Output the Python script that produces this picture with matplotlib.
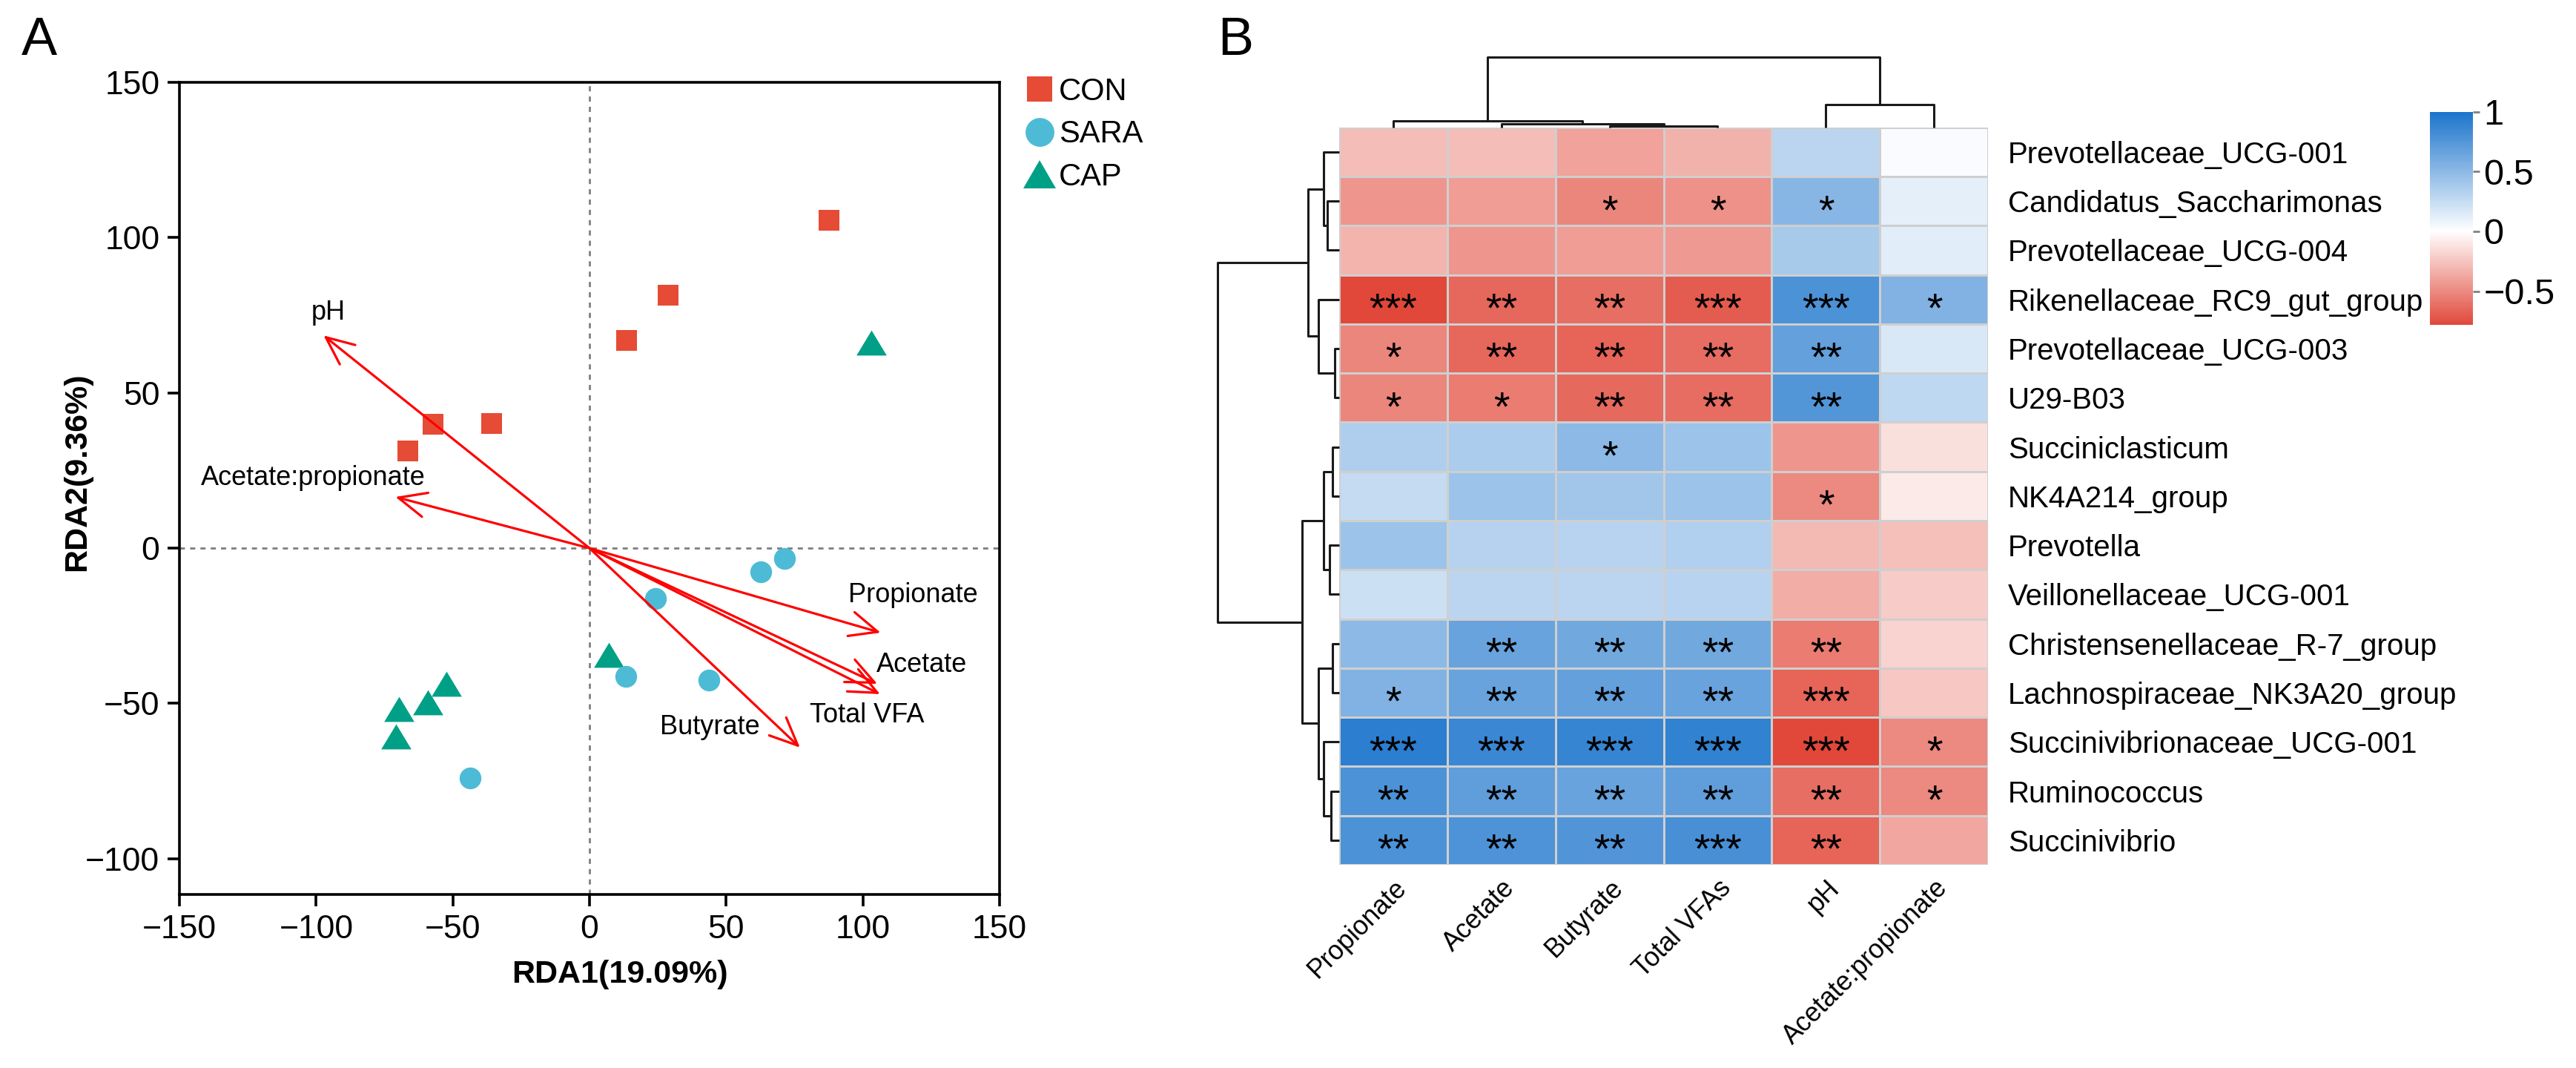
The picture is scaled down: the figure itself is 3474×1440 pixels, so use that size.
import numpy as np
import matplotlib
matplotlib.use("Agg")
import matplotlib.pyplot as plt
import matplotlib.cm as cm
from matplotlib.colors import LinearSegmentedColormap, Normalize
from matplotlib.lines import Line2D
from matplotlib.markers import MarkerStyle
from matplotlib.transforms import Affine2D, ScaledTranslation

plt.rcParams['font.family'] = ['Liberation Sans', 'DejaVu Sans']

# ---- panel A: RDA scores ----
con_x = [87.5, 28.8, 13.5, -57.3, -35.7, -66.5]
con_y = [105.5, 81.4, 67.0, 39.9, 40.2, 31.2]
sara_x = [71.3, 62.6, 24.2, 13.3, 43.8, -43.8]
sara_y = [-3.3, -7.5, -16.2, -41.3, -42.6, -74.0]
cap_x = [103.2, 7.1, -52.3, -59.2, -69.8, -70.8]
cap_y = [66.2, -34.4, -43.7, -49.6, -51.9, -60.6]

env_names = ["pH", "Acetate:propionate", "Propionate", "Acetate", "Total VFA", "Butyrate"]
env_x = [-97.3, -71.0, 106.5, 105.3, 106.3, 77.0]
env_y = [68.5, 16.5, -27.2, -43.7, -47.0, -64.2]

# ---- panel B: correlation heatmap ----
genera = ["Prevotellaceae_UCG-001", "Candidatus_Saccharimonas", "Prevotellaceae_UCG-004",
          "Rikenellaceae_RC9_gut_group", "Prevotellaceae_UCG-003", "U29-B03",
          "Succiniclasticum", "NK4A214_group", "Prevotella", "Veillonellaceae_UCG-001",
          "Christensenellaceae_R-7_group", "Lachnospiraceae_NK3A20_group",
          "Succinivibrionaceae_UCG-001", "Ruminococcus", "Succinivibrio"]
vfa_cols = ["Propionate", "Acetate", "Butyrate", "Total VFAs", "pH", "Acetate:propionate"]
corr = np.array([
    [-0.28, -0.28, -0.40, -0.33, 0.30, 0.03],
    [-0.45, -0.42, -0.52, -0.47, 0.52, 0.12],
    [-0.32, -0.45, -0.42, -0.43, 0.38, 0.13],
    [-0.78, -0.65, -0.62, -0.70, 0.78, 0.55],
    [-0.52, -0.65, -0.66, -0.63, 0.68, 0.17],
    [-0.52, -0.56, -0.64, -0.63, 0.75, 0.28],
    [0.35, 0.37, 0.50, 0.43, -0.45, -0.13],
    [0.26, 0.43, 0.41, 0.43, -0.50, -0.09],
    [0.43, 0.32, 0.31, 0.34, -0.30, -0.27],
    [0.22, 0.30, 0.30, 0.31, -0.35, -0.22],
    [0.50, 0.66, 0.62, 0.62, -0.56, -0.19],
    [0.55, 0.66, 0.68, 0.66, -0.66, -0.24],
    [0.93, 0.86, 0.88, 0.90, -0.78, -0.50],
    [0.78, 0.70, 0.66, 0.70, -0.62, -0.50],
    [0.78, 0.77, 0.76, 0.80, -0.66, -0.38],
])
stars = [
    ["", "", "", "", "", ""],
    ["", "", "*", "*", "*", ""],
    ["", "", "", "", "", ""],
    ["***", "**", "**", "***", "***", "*"],
    ["*", "**", "**", "**", "**", ""],
    ["*", "*", "**", "**", "**", ""],
    ["", "", "*", "", "", ""],
    ["", "", "", "", "*", ""],
    ["", "", "", "", "", ""],
    ["", "", "", "", "", ""],
    ["", "**", "**", "**", "**", ""],
    ["*", "**", "**", "**", "***", ""],
    ["***", "***", "***", "***", "***", "*"],
    ["**", "**", "**", "**", "**", "*"],
    ["**", "**", "**", "***", "**", ""],
]
# dendrograms: (child a, child b, merge height); new nodes numbered from n_leaves up
row_merges = [(1, 2, 16), (0, 15, 21), (4, 5, 5.5), (3, 17, 28), (16, 18, 42),
              (6, 7, 9), (8, 9, 12.5), (20, 21, 21), (10, 11, 9), (13, 14, 11),
              (12, 24, 21), (23, 25, 28), (22, 26, 50), (19, 27, 163.5)]
col_merges = [(2, 3, 2), (1, 6, 4.4), (0, 7, 9), (4, 5, 31), (8, 9, 95)]

W, H = 3474, 1440


def box(x0, y0, x1, y1):
    # pixel box (top-left origin) -> figure rect
    return [x0 / W, 1 - y1 / H, (x1 - x0) / W, (y1 - y0) / H]


def draw_dendro(ax, merges, n_leaves, top=True):
    pos = {i: i + 0.5 for i in range(n_leaves)}
    hgt = {i: 0.0 for i in range(n_leaves)}
    node = n_leaves
    for a, b, h in merges:
        xs = [pos[a], pos[a], pos[b], pos[b]]
        ys = [hgt[a], h, h, hgt[b]]
        if not top:
            xs, ys = ys, xs
        ax.plot(xs, ys, color="#1a1a1a", lw=1.1, clip_on=False, solid_capstyle="butt")
        pos[node] = (pos[a] + pos[b]) / 2
        hgt[node] = h
        node += 1
    ax.axis("off")


fig = plt.figure(figsize=(W / 200, H / 200), dpi=200)

# ================= panel A =================
ax = fig.add_axes(box(242, 111, 1348, 1206))
ax.axhline(0, color="#7f7f7f", lw=1.0, ls=(0, (2.5, 2.5)), zorder=0)
ax.axvline(0, color="#7f7f7f", lw=1.0, ls=(0, (2.5, 2.5)), zorder=0)

tri = MarkerStyle("^", transform=Affine2D().scale(1.0, 0.83))
ax.scatter(con_x, con_y, marker="s", s=98, color="#E64B35", linewidths=0, zorder=2)
ax.scatter(cap_x, cap_y, marker=tri, s=215, color="#00A087", linewidths=0, zorder=2)
ax.scatter(sara_x, sara_y, marker="o", s=112, color="#4DBBD5", linewidths=0, zorder=2)

label_offsets = {"pH": (1.9, 7.4), "Acetate:propionate": (-30, 6.2), "Propionate": (11.9, 12.1),
                 "Acetate": (16.3, 6.2), "Total VFA": (-4.9, -6.9), "Butyrate": (-32.9, 6.5)}
for name, ex, ey in zip(env_names, env_x, env_y):
    ax.annotate("", xy=(ex, ey), xytext=(0, 0),
                arrowprops=dict(arrowstyle="->,head_length=0.45,head_width=0.2", color="#FF0000",
                                lw=1.15, mutation_scale=30, shrinkA=0, shrinkB=0), zorder=3)
    dx, dy = label_offsets[name]
    ax.text(ex + dx, ey + dy, name, fontsize=13, ha="center", va="center", zorder=4)

ax.set_xlim(-150, 150)
ax.set_ylim(-111.5, 150)
ax.set_xticks(np.arange(-150, 151, 50))
ax.set_yticks(np.arange(-100, 151, 50))
ax.tick_params(labelsize=16, length=5.6, width=1.3, pad=4)
for s in ax.spines.values():
    s.set_linewidth(1.3)
ax.set_xlabel("RDA1(19.09%)", fontsize=15.5, fontweight="bold")
ax.set_ylabel("RDA2(9.36%)", fontsize=15.5, fontweight="bold")
ax.xaxis.set_label_coords(0.537, -0.080)
ax.yaxis.set_label_coords(-0.107, 0.52)

handles = [
    Line2D([], [], marker="s", color="#E64B35", ls="None", markersize=12.2, markeredgewidth=0),
    Line2D([], [], marker="o", color="#4DBBD5", ls="None", markersize=14, markeredgewidth=0),
    Line2D([], [], marker=MarkerStyle("^", transform=Affine2D().scale(1.0, 0.87)), color="#00A087",
           ls="None", markersize=15.8, markeredgewidth=0),
]
ax.legend(handles, ["CON", "SARA", "CAP"], loc="upper left", bbox_to_anchor=(1381 / W, 1 - 104 / H),
          bbox_transform=fig.transFigure, frameon=False, handlelength=1.0, handletextpad=0.12,
          labelspacing=0.42, borderpad=0, borderaxespad=0, fontsize=15)

fig.text(53 / W, 1 - 56 / H, "A", fontsize=26, ha="center", va="center")
fig.text(1666 / W, 1 - 56 / H, "B", fontsize=26, ha="center", va="center")

# ================= panel B =================
lo, hi = -0.785, 1.0
cmap = LinearSegmentedColormap.from_list(
    "rwb", [(0.0, "#E1483A"), (-lo / (hi - lo), "#FFFFFF"), (1.0, "#1B74CC")])
norm = Normalize(vmin=lo, vmax=hi)

hm = fig.add_axes(box(1805.5, 171.7, 2681.5, 1166))
hm.pcolormesh(np.arange(len(vfa_cols) + 1), np.arange(len(genera) + 1), corr, cmap=cmap, norm=norm,
              edgecolors="#CFCFCF", linewidth=1.0)
hm.set_xlim(0, len(vfa_cols))
hm.set_ylim(len(genera), 0)
for s in hm.spines.values():
    s.set_visible(False)
for i in range(len(genera)):
    for j in range(len(vfa_cols)):
        if stars[i][j]:
            hm.text(j + 0.5, i + 0.5 + 0.45, stars[i][j], fontsize=20, ha="center", va="baseline")
hm.set_yticks(np.arange(len(genera)) + 0.5)
hm.set_yticklabels(genera, fontsize=14.5)
hm.yaxis.tick_right()
hm.set_xticks(np.arange(len(vfa_cols)) + 0.5)
hm.set_xticklabels(vfa_cols, fontsize=12.8, rotation=45, ha="right", va="top", rotation_mode="anchor")
shift = ScaledTranslation(-20 / 200, 0, fig.dpi_scale_trans)
for lab in hm.get_xticklabels():
    lab.set_transform(lab.get_transform() + shift)
hm.tick_params(axis="y", length=0, pad=9.5)
hm.tick_params(axis="x", length=0, pad=5)

rd = fig.add_axes(box(1642, 171.7, 1805.5, 1166))
rd.set_ylim(len(genera), 0)
rd.set_xlim(163.5, 0)
draw_dendro(rd, row_merges, len(genera), top=False)

cd = fig.add_axes(box(1805.5, 77, 2681.5, 171.7))
cd.set_xlim(0, len(vfa_cols))
cd.set_ylim(0, 95)
draw_dendro(cd, col_merges, len(vfa_cols), top=True)

cax = fig.add_axes(box(3277, 150.6, 3335, 438.5))
cb = fig.colorbar(cm.ScalarMappable(norm=norm, cmap=cmap), cax=cax)
cb.outline.set_visible(False)
cb.set_ticks([1, 0.5, 0, -0.5])
cb.set_ticklabels(["1", "0.5", "0", "\u22120.5"])
cax.tick_params(length=3.2, width=1, color="#808080", labelsize=17.5, pad=2)

fig.savefig("out.png", dpi=200)
